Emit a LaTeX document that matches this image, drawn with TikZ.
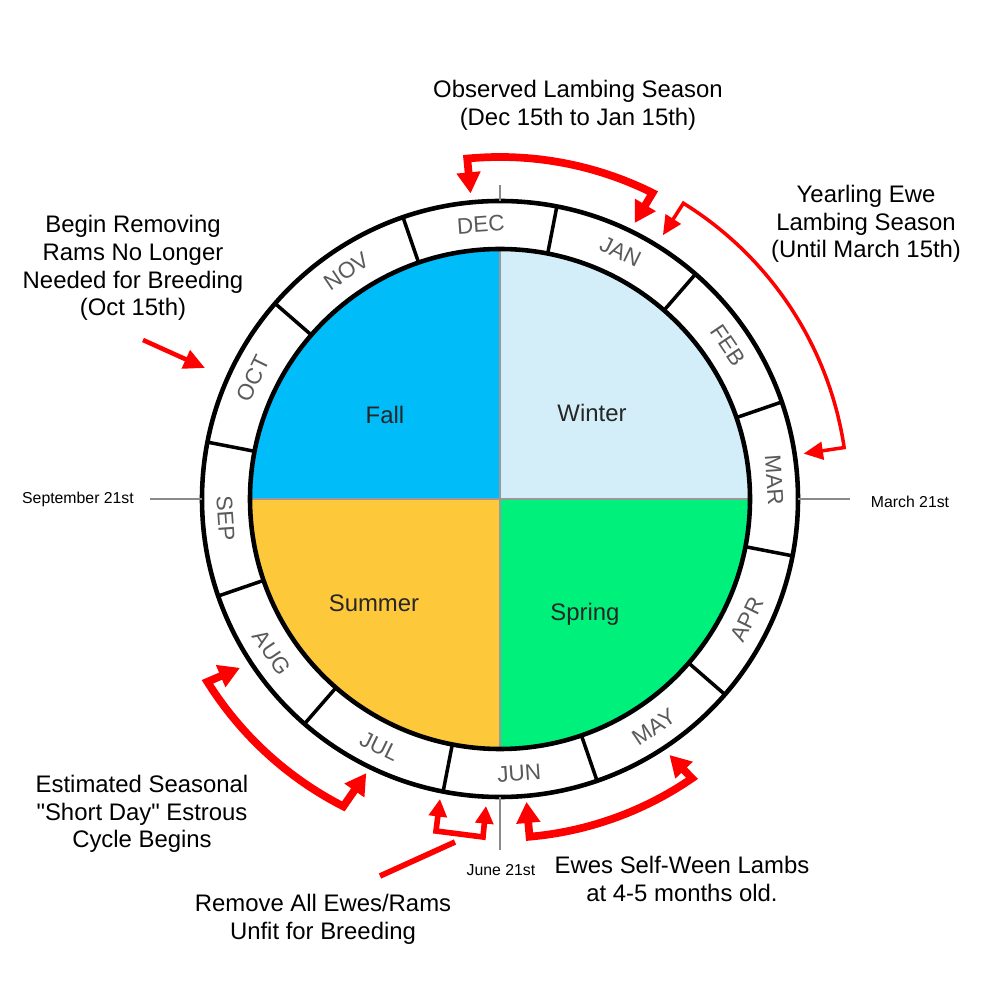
\documentclass[tikz,border=0pt]{standalone}
\usepackage{fontspec}
\setmainfont{Liberation Sans}[Ligatures=TeXOff]
\usetikzlibrary{arrows.meta}
\definecolor{fallblue}{HTML}{00BCF8}
\definecolor{winterblue}{HTML}{D3EEF8}
\definecolor{summeryellow}{HTML}{FDC93A}
\definecolor{springgreen}{HTML}{00F07C}
\definecolor{monthgray}{HTML}{5A5A5A}
\definecolor{axisgray}{HTML}{8A8A8A}

\begin{document}
\begin{tikzpicture}[
  note/.style={align=center,font=\fontsize{6.8}{7.9}\selectfont,inner sep=0pt},
  month/.style={font=\fontsize{6.4}{7}\selectfont,text=monthgray,inner sep=0pt},
  season/.style={font=\fontsize{6.8}{8}\selectfont,text=black!85,inner sep=0pt},
  datelabel/.style={font=\fontsize{4.5}{5.5}\selectfont,inner sep=0pt},
  axis/.style={draw=axisgray,line width=0.8pt},
  bracket/.style={draw=red,line width=2.2pt,{Triangle[length=6pt,width=6.5pt]}-{Triangle[length=6pt,width=6.5pt]}},
  thinbracket/.style={draw=red,line width=1pt,{Triangle[length=5.5pt,width=5pt]}-{Triangle[length=5.5pt,width=5pt]}}]
  \useasboundingbox (-5,-5.01) rectangle (5,4.99);
  % seasons
  \fill[winterblue] (0,0) -- (0:2.5) arc[start angle=0,end angle=90,radius=2.5] -- cycle;
  \fill[fallblue] (0,0) -- (90:2.5) arc[start angle=90,end angle=180,radius=2.5] -- cycle;
  \fill[summeryellow] (0,0) -- (180:2.5) arc[start angle=180,end angle=270,radius=2.5] -- cycle;
  \fill[springgreen] (0,0) -- (270:2.5) arc[start angle=270,end angle=360,radius=2.5] -- cycle;
  \draw[gray!80,line width=0.4pt] (0,2.5) -- (0,-2.5) (-2.5,0) -- (2.5,0);
  \path (-1.15,0.84) node[season] (fall) {Fall} (0.92,0.86) node[season] (winter) {Winter}
  (-1.26,-1.04) node[season] (summer) {Summer} (0.85,-1.15) node[season] (spring) {Spring};
  % month ring
  \draw[line width=1.3pt] (0,0) circle[radius=2.5] (0,0) circle[radius=2.98];
  \foreach \d in {19,49,...,349}
    \draw[line width=1pt] (\d:2.5) -- (\d:2.98);
  \foreach \m/\a/\r in {DEC/94/4,JAN/64/-26,FEB/34/-56,MAR/4/-86,APR/-26/64,MAY/-56/34,
    JUN/-86/4,JUL/-116/-26,AUG/-146/-56,SEP/-176/-86,OCT/154/64,NOV/124/34}
    \node[month,rotate=\r] (m\m) at (\a:2.75) {\m};
  % solstice and equinox marks
  \draw[axis] (0,2.98) -- (0,3.14) (0,-2.98) -- (0,-3.51)
  (-2.98,0) -- (-3.5,0) (2.98,0) -- (3.5,0);
  \path (-4.22,0) node[datelabel] (sep21) {September 21st} (4.1,-0.03) node[datelabel] (mar21) {March 21st}
  (0.01,-3.71) node[datelabel] (jun21) {June 21st};
  % notes
  \path (0.78,3.94) node[note] (lambing) {Observed Lambing Season\\(Dec 15th to Jan 15th)}
  (3.66,2.75) node[note] (yearling) {Yearling Ewe\\Lambing Season\\(Until March 15th)}
  (-3.67,2.31) node[note] (rams) {Begin Removing\\Rams No Longer\\Needed for Breeding\\(Oct 15th)}
  (-3.58,-3.15) node[note] (estrous) {Estimated Seasonal\\"Short Day" Estrous\\Cycle Begins}
  (-1.77,-4.2) node[note] (unfit) {Remove All Ewes/Rams\\Unfit for Breeding}
  (1.82,-3.8) node[note] (ween) {Ewes Self-Ween Lambs\\at 4-5 months old.};
  % red arrows
  \coordinate (lambA) at (95.5:3.07);
  \coordinate (lambB) at (64:3.07);
  \draw[bracket] (lambA) -- (95.5:3.42) arc[start angle=95.5,end angle=63.5,radius=3.42] -- (lambB);
  \coordinate (yearA) at (58.3:3.1);
  \coordinate (yearB) at (8.5:3.07);
  \draw[thinbracket] (yearA) -- (58.2:3.48) arc[start angle=58.2,end angle=8.5,radius=3.48] -- (yearB);
  \coordinate (ramsTail) at (-3.57,1.59);
  \coordinate (ramsTip) at (-2.95,1.31);
  \draw[red,line width=1.3pt,-{Triangle[length=6pt,width=5.5pt]}] (ramsTail) -- (ramsTip);
  \coordinate (estA) at (-147:3.1);
  \coordinate (estB) at (-116:3.05);
  \draw[bracket] (estA) -- (-148:3.45) arc[start angle=-148,end angle=-117,radius=3.45] -- (estB);
  \coordinate (unfitTail) at (-1.2,-3.77);
  \coordinate (unfitFork) at (-0.45,-3.43);
  \coordinate (unfitL) at (-0.64,-3.32);
  \coordinate (unfitR) at (-0.17,-3.38);
  \coordinate (unfitTipL) at (-0.6,-3.0);
  \coordinate (unfitTipR) at (-0.14,-3.07);
  \draw[red,line width=1.6pt] (unfitTail) -- (unfitFork);
  \draw[red,line width=1.6pt,{Triangle[length=5pt,width=5pt]}-{Triangle[length=5pt,width=5pt]}]
  (unfitTipL) -- (unfitL) -- (unfitR) -- (unfitTipR);
  \coordinate (weenA) at (-85:3.04);
  \coordinate (weenB) at (-56.5:3.07);
  \draw[bracket] (weenA) -- (-85:3.39) arc[start angle=-85,end angle=-55.5,radius=3.39] -- (weenB);
\end{tikzpicture}
\end{document}
